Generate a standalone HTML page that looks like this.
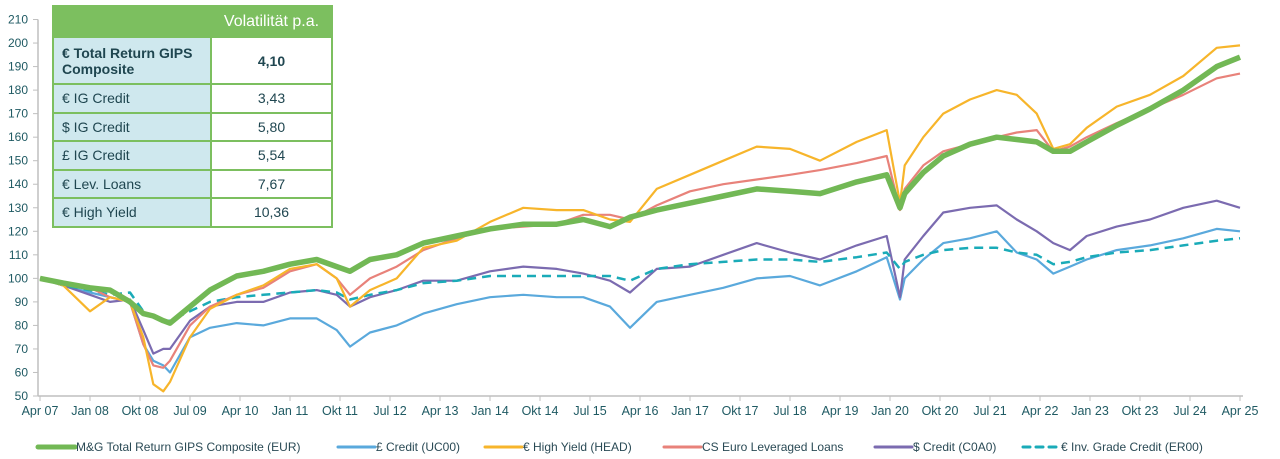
<!DOCTYPE html>
<html><head><meta charset="utf-8"><style>
body{margin:0;background:#fff;width:1280px;height:459px;overflow:hidden;font-family:"Liberation Sans",sans-serif;}
#tbl{position:absolute;left:52px;top:5px;width:281px;border-collapse:collapse;font-size:14px;color:#1f4650;}
#tbl td{border:2px solid #7cbf5f;padding:0 8px;}
#tbl td.l{background:#cfe8ee;width:140px;}
#tbl td.r{text-align:center;background:#fff;}
</style></head><body>
<svg id="chart" width="1280" height="459" style="position:absolute;left:0;top:0"></svg>
<table id="tbl">
<tr style="height:31px"><td style="background:#7cbf5f;border-right-color:#7cbf5f"></td><td style="background:#7cbf5f;color:#fff;font-size:16px;text-align:center">Volatilität p.a.</td></tr>
<tr style="height:47px"><td class="l" style="font-weight:bold">€ Total Return GIPS Composite</td><td class="r" style="font-weight:bold">4,10</td></tr>
<tr style="height:28.5px"><td class="l">€ IG Credit</td><td class="r">3,43</td></tr>
<tr style="height:28.5px"><td class="l">$ IG Credit</td><td class="r">5,80</td></tr>
<tr style="height:28.5px"><td class="l">£ IG Credit</td><td class="r">5,54</td></tr>
<tr style="height:28.5px"><td class="l">€ Lev. Loans</td><td class="r">7,67</td></tr>
<tr style="height:28.5px"><td class="l">€ High Yield</td><td class="r">10,36</td></tr>
</table>
<script>
const times=[2007.25,2007.6,2008.0,2008.3,2008.6,2008.8,2008.95,2009.1,2009.2,2009.5,2009.8,2010.2,2010.6,2011.0,2011.4,2011.7,2011.9,2012.2,2012.6,2013.0,2013.5,2014.0,2014.5,2015.0,2015.4,2015.8,2016.1,2016.5,2017.0,2017.5,2018.0,2018.5,2018.95,2019.5,2019.95,2020.15,2020.22,2020.5,2020.8,2021.2,2021.6,2021.9,2022.2,2022.45,2022.7,2022.95,2023.4,2023.9,2024.4,2024.9,2025.25];
const composite=[100,98,96,95,90,85,84,82,81,88,95,101,103,106,108,105,103,108,110,115,118,121,123,123,125,122,126,129,132,135,138,137,136,141,144,130,136,145,152,157,160,159,158,154,154,158,165,172,180,190,194];
const gbpCredit=[100,97,94,92,90,72,65,63,60,75,79,81,80,83,83,78,71,77,80,85,89,92,93,92,92,88,79,90,93,96,100,101,97,103,109,91,100,108,115,117,120,111,108,102,105,108,112,114,117,121,120];
const highYield=[100,97,86,92,90,75,55,52,56,75,87,93,97,104,106,100,88,95,100,113,116,124,130,129,129,125,124,138,144,150,156,155,150,158,163,132,148,160,170,176,180,178,170,155,157,164,173,178,186,198,199];
const levLoans=[100,98,96,92,90,72,63,62,65,80,88,93,96,103,106,100,93,100,105,112,117,121,122,123,127,127,125,131,137,140,142,144,146,149,152,129,138,148,154,157,160,162,163,154,156,160,166,172,178,185,187];
const usdCredit=[100,97,93,90,91,78,68,70,70,82,88,90,90,94,95,93,88,92,95,99,99,103,105,104,102,99,94,104,105,110,115,111,108,114,118,92,108,118,128,130,131,125,120,115,112,118,122,125,130,133,130];
const eurIG=[100,97,95,93,94,86,84,82,82,86,90,92,93,94,95,94,91,93,95,98,99,101,101,101,101,101,99,104,106,107,108,108,107,109,111,104,107,110,112,113,113,111,110,106,107,109,111,112,114,116,117];
const yTicks=[50,60,70,80,90,100,110,120,130,140,150,160,170,180,190,200,210];
const xLabels=["Apr 07","Jan 08","Okt 08","Jul 09","Apr 10","Jan 11","Okt 11","Jul 12","Apr 13","Jan 14","Okt 14","Jul 15","Apr 16","Jan 17","Okt 17","Jul 18","Apr 19","Jan 20","Okt 20","Jul 21","Apr 22","Jan 23","Okt 23","Jul 24","Apr 25"];
const NS="http://www.w3.org/2000/svg";
const svg=document.getElementById('chart');
const X=t=>40+(t-2007.25)*66.667;
const Y=v=>396-(v-50)*2.353;
function mk(tag,attrs){const e=document.createElementNS(NS,tag);for(const k in attrs)e.setAttribute(k,attrs[k]);svg.appendChild(e);return e;}
const txtCol="#1f5a63";
let ax=mk('line',{x1:38,y1:Y(50),x2:1243,y2:Y(50),stroke:'#bfbfbf','stroke-width':1.5});


let ay=mk('line',{x1:38,y1:Y(50),x2:38,y2:Y(210),stroke:'#bfbfbf','stroke-width':1.5});


yTicks.forEach(v=>{
  mk('line',{x1:33,x2:38,y1:Y(v),y2:Y(v),stroke:'#bfbfbf'});
  const t=mk('text',{x:28,y:Y(v)+4,'text-anchor':'end','font-size':12,fill:txtCol});
  t.textContent=v;
  
  
});
xLabels.forEach((s,i)=>{
  const t0=2007.25+i*0.75;
  mk('line',{x1:X(t0),x2:X(t0),y1:Y(50),y2:Y(50)+5,stroke:'#bfbfbf'});
  const t=mk('text',{x:X(t0),y:415,'text-anchor':'middle','font-size':12.5,fill:txtCol});
  t.textContent=s;
  
  
});
function line(vals,col,w,name,dash){
  const d=vals.map((v,i)=>(i?'L':'M')+X(times[i]).toFixed(1)+','+Y(v).toFixed(1)).join('');
  const p=mk('path',{d:d,fill:'none',stroke:col,'stroke-width':w,'stroke-linejoin':'round'});
  if(dash)p.setAttribute('stroke-dasharray',dash);
  
  
}
line(gbpCredit,'#5aa9dc',2.2,'line-gbp-credit');
line(usdCredit,'#7b6bb0',2.2,'line-usd-credit');
line(eurIG,'#1aabb8',2.5,'line-eur-ig-credit','9,6');
line(levLoans,'#e8827a',2.2,'line-lev-loans');
line(highYield,'#f7b52b',2.2,'line-high-yield');
line(composite,'#72b855',5.5,'line-composite');
const legend=[["M&G Total Return GIPS Composite (EUR)",'#72b855',5,null,38],["£ Credit (UC00)",'#5aa9dc',3,null,338],["€ High Yield (HEAD)",'#f7b52b',3,null,485],["CS Euro Leveraged Loans",'#e8827a',3,null,664],["$ Credit (C0A0)",'#7b6bb0',3,null,875],["€ Inv. Grade Credit (ER00)",'#1aabb8',3,'7,6',1023]];
legend.forEach(l=>{
  const g=mk('line',{x1:l[4],x2:l[4]+37,y1:447,y2:447,stroke:l[1],'stroke-width':l[2],'stroke-linecap':'round'});
  if(l[3])g.setAttribute('stroke-dasharray',l[3]);
  
  
  const t=mk('text',{x:l[4]+38,y:451,'font-size':12,fill:'#2a4a55'});
  t.textContent=l[0];
  
  
});
</script>
</body></html>
